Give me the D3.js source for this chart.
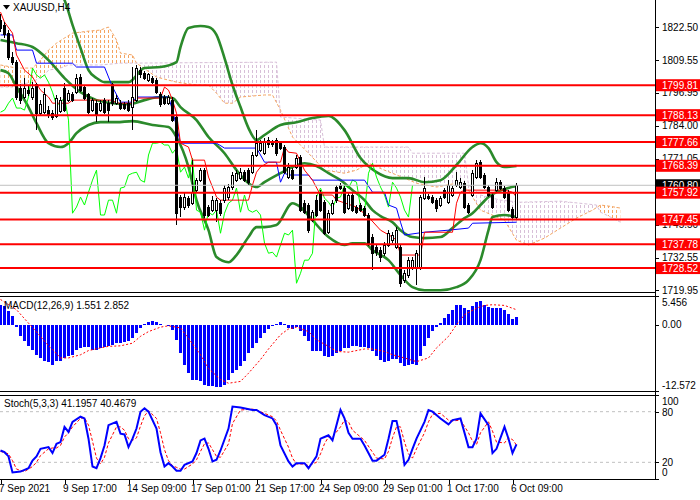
<!DOCTYPE html>
<html>
<head>
<meta charset="utf-8">
<script src="https://cdn.jsdelivr.net/npm/d3@7"></script>
<style>
  body { margin: 0; background: #fff; }
  svg { display: block; font-family: 'Liberation Sans', Arial, sans-serif; font-size: 10px; }
</style>
</head>
<body>
<div id="chart"></div>
<script>
const symbol = 'XAUUSD,H4';

// H4 candles, one per bar
const opens = [
  1825.2, 1822.9, 1820.1, 1810.8, 1808.8, 1798.7, 1795.2, 1797.9, 1795.2, 1799.9,
  1788.9, 1789.3, 1790.1, 1788.9, 1787.8, 1789.7, 1798.7, 1794.0, 1796.0, 1797.1,
  1803.0, 1799.1, 1796.0, 1790.1, 1792.8, 1790.1, 1794.0, 1792.8, 1799.9, 1792.8,
  1792.8, 1792.4, 1792.8, 1791.3, 1794.0, 1805.7, 1804.5, 1801.8, 1802.6, 1801.8,
  1796.0, 1795.2, 1792.8, 1794.0, 1787.4, 1756.2, 1752.3, 1755.8, 1753.8, 1758.9,
  1762.8, 1766.7, 1752.3, 1751.1, 1751.1, 1753.8, 1755.0, 1756.2, 1760.1, 1762.8,
  1763.6, 1765.9, 1766.7, 1765.9, 1772.6, 1774.5, 1773.3, 1778.4, 1777.6, 1778.4,
  1777.2, 1775.7, 1764.0, 1766.7, 1767.9, 1771.8, 1753.8, 1753.1, 1747.2, 1755.0,
  1757.7, 1754.2, 1742.5, 1749.9, 1760.1, 1760.9, 1759.7, 1751.9, 1757.0, 1752.3,
  1753.1, 1751.9, 1749.2, 1740.6, 1736.7, 1735.5, 1734.3, 1737.5, 1739.4, 1736.7,
  1736.7, 1723.8, 1725.8, 1728.9, 1728.9, 1728.9, 1755.8, 1756.6, 1756.2, 1755.0,
  1753.1, 1758.9, 1754.2, 1757.0, 1760.9, 1760.1, 1761.6, 1753.1, 1757.0, 1764.0,
  1769.8, 1764.8, 1760.1, 1757.0, 1758.9, 1762.0, 1759.7, 1758.1, 1751.5, 1748.4
];
const highs = [
  1827.5, 1824.4, 1821.3, 1812.7, 1809.6, 1800.2, 1802.6, 1799.5, 1801.0, 1800.6,
  1794.0, 1798.7, 1791.7, 1790.1, 1796.0, 1795.2, 1800.6, 1797.9, 1797.1, 1804.1,
  1804.1, 1799.9, 1796.7, 1794.8, 1794.0, 1794.0, 1794.8, 1794.0, 1800.6, 1796.0,
  1794.0, 1793.2, 1794.0, 1806.9, 1807.7, 1806.9, 1805.3, 1804.5, 1803.4, 1802.6,
  1797.1, 1796.0, 1796.0, 1795.2, 1788.2, 1757.0, 1757.7, 1756.6, 1770.6, 1763.6,
  1767.5, 1767.5, 1753.1, 1756.6, 1755.8, 1755.0, 1760.9, 1761.2, 1765.9, 1766.7,
  1767.5, 1766.7, 1767.5, 1773.7, 1782.3, 1778.4, 1779.2, 1779.6, 1778.4, 1779.2,
  1778.0, 1776.5, 1769.4, 1767.5, 1772.6, 1772.6, 1755.0, 1753.8, 1751.1, 1757.0,
  1758.9, 1755.0, 1751.1, 1755.0, 1760.9, 1761.6, 1760.5, 1757.7, 1757.7, 1753.1,
  1753.8, 1752.7, 1749.9, 1741.7, 1737.8, 1736.7, 1738.6, 1743.3, 1742.5, 1744.5,
  1737.5, 1727.7, 1732.8, 1732.8, 1735.5, 1757.0, 1764.0, 1757.3, 1757.0, 1755.8,
  1756.6, 1759.7, 1762.8, 1760.5, 1765.9, 1763.6, 1762.4, 1753.8, 1766.7, 1770.6,
  1770.6, 1765.5, 1760.9, 1757.7, 1763.6, 1762.8, 1760.5, 1758.9, 1752.3, 1761.6
];
const lows = [
  1820.5, 1818.2, 1809.6, 1807.7, 1794.0, 1792.4, 1794.4, 1795.6, 1794.0, 1782.3,
  1787.8, 1788.5, 1787.0, 1786.2, 1787.0, 1788.9, 1789.3, 1793.2, 1793.2, 1796.3,
  1797.1, 1794.0, 1788.5, 1789.3, 1785.4, 1789.3, 1788.5, 1785.4, 1791.7, 1792.1,
  1790.1, 1790.1, 1789.3, 1782.3, 1793.2, 1802.6, 1801.8, 1801.0, 1800.2, 1796.3,
  1791.3, 1792.1, 1792.1, 1785.4, 1745.3, 1748.4, 1751.1, 1751.9, 1753.1, 1758.1,
  1762.0, 1748.0, 1748.4, 1750.3, 1746.4, 1748.8, 1753.8, 1755.0, 1758.9, 1762.0,
  1762.8, 1762.0, 1760.9, 1765.1, 1771.8, 1773.7, 1772.6, 1775.3, 1775.7, 1772.2,
  1774.5, 1765.1, 1763.2, 1762.8, 1767.1, 1750.3, 1749.5, 1742.1, 1746.4, 1748.4,
  1750.3, 1741.4, 1741.7, 1749.2, 1753.8, 1758.9, 1749.5, 1751.1, 1750.3, 1749.5,
  1750.3, 1748.4, 1737.1, 1727.7, 1733.2, 1730.8, 1733.2, 1736.7, 1738.2, 1735.9,
  1721.1, 1722.6, 1724.6, 1727.7, 1721.9, 1727.7, 1755.0, 1755.0, 1753.4, 1750.3,
  1752.3, 1755.4, 1753.4, 1756.2, 1760.1, 1759.3, 1751.5, 1749.5, 1756.2, 1763.2,
  1763.2, 1759.3, 1756.2, 1751.5, 1758.1, 1758.9, 1755.4, 1750.3, 1747.6, 1747.6
];
const closes = [
  1822.1, 1819.7, 1810.8, 1808.8, 1795.2, 1794.0, 1798.7, 1796.7, 1798.7, 1788.9,
  1792.1, 1796.0, 1788.2, 1787.4, 1794.8, 1794.0, 1790.1, 1796.7, 1794.0, 1802.6,
  1797.9, 1794.8, 1789.3, 1794.0, 1788.2, 1792.8, 1789.3, 1790.1, 1792.8, 1794.8,
  1790.9, 1790.9, 1790.1, 1795.2, 1806.5, 1803.8, 1802.6, 1803.8, 1801.0, 1797.1,
  1792.1, 1792.8, 1795.2, 1786.2, 1749.9, 1752.3, 1756.2, 1753.1, 1758.1, 1762.8,
  1766.7, 1749.2, 1749.2, 1755.0, 1755.0, 1749.9, 1759.7, 1760.1, 1764.8, 1765.5,
  1765.9, 1762.8, 1762.0, 1772.6, 1777.2, 1777.2, 1777.6, 1776.5, 1776.5, 1773.3,
  1775.3, 1765.9, 1767.9, 1763.6, 1771.4, 1751.1, 1750.3, 1743.3, 1750.3, 1749.2,
  1751.1, 1742.1, 1749.9, 1753.8, 1755.0, 1759.7, 1750.3, 1757.0, 1751.1, 1750.3,
  1751.1, 1749.2, 1738.2, 1734.3, 1734.7, 1732.8, 1737.5, 1742.1, 1741.4, 1743.3,
  1722.6, 1726.5, 1731.6, 1731.6, 1734.3, 1756.2, 1759.7, 1755.8, 1754.2, 1751.9,
  1755.8, 1756.2, 1760.9, 1759.7, 1762.8, 1762.0, 1752.3, 1750.3, 1765.5, 1769.4,
  1764.0, 1760.1, 1757.0, 1752.3, 1762.0, 1759.7, 1756.2, 1751.1, 1748.4, 1760.8
];

// Bollinger bands read at bar positions
const bbUpperBars = [0, 4, 8, 12, 16, 18, 20, 22, 24, 26, 32, 36, 40, 44, 45, 47, 50, 52, 54, 56, 58, 60, 62, 64, 66, 70, 74, 78, 82, 86, 90, 94, 98, 102, 106, 110, 114, 118, 120, 122, 124, 126, 129];
const bbUpper = [1852.5, 1848.6, 1844.7, 1840.0, 1833.0, 1823.3, 1814.3, 1805.7, 1802.6, 1801.0, 1801.0, 1806.5, 1806.9, 1808.8, 1814.7, 1822.1, 1822.9, 1822.5, 1819.4, 1810.4, 1799.9, 1791.3, 1783.1, 1778.4, 1780.4, 1784.3, 1785.4, 1787.0, 1787.8, 1782.3, 1771.4, 1765.9, 1763.6, 1763.6, 1762.0, 1762.8, 1768.7, 1775.7, 1777.2, 1775.3, 1769.8, 1767.9, 1768.3];
const bbMiddleBars = [0, 4, 8, 12, 16, 20, 24, 28, 32, 36, 40, 43, 45, 49, 52, 56, 59, 62, 64, 66, 70, 73, 76, 79, 82, 85, 88, 91, 93, 95, 98, 100, 103, 106, 110, 113, 116, 118, 120, 122, 124, 126, 129];
const bbMiddle = [1817.4, 1816.2, 1814.7, 1809.6, 1802.6, 1797.1, 1794.0, 1792.8, 1792.4, 1794.0, 1795.2, 1794.8, 1791.3, 1786.2, 1779.6, 1773.3, 1766.7, 1761.6, 1760.1, 1762.0, 1765.5, 1767.9, 1769.4, 1768.3, 1765.5, 1762.8, 1758.9, 1755.0, 1751.1, 1748.8, 1746.4, 1743.3, 1740.6, 1740.2, 1740.6, 1744.1, 1748.0, 1749.9, 1753.1, 1756.2, 1758.1, 1759.3, 1760.5];
const bbLowerBars = [0, 2, 4, 7, 9, 12, 15, 17, 19, 22, 25, 29, 33, 38, 42, 44, 47, 49, 52, 54, 57, 59, 62, 64, 66, 69, 73, 75, 78, 82, 86, 88, 91, 93, 97, 100, 103, 106, 110, 114, 117, 120, 122, 123, 126, 129];
const bbLower = [1805.7, 1804.5, 1799.1, 1791.3, 1785.0, 1777.2, 1775.7, 1777.2, 1781.1, 1784.3, 1785.4, 1785.4, 1785.8, 1784.3, 1783.5, 1779.6, 1767.9, 1755.0, 1743.3, 1732.8, 1730.8, 1733.6, 1740.6, 1744.5, 1744.5, 1745.3, 1753.8, 1752.3, 1747.2, 1740.6, 1737.5, 1738.2, 1738.2, 1735.5, 1731.6, 1725.8, 1721.1, 1719.9, 1719.9, 1721.1, 1723.8, 1731.6, 1743.3, 1748.4, 1749.2, 1748.4];

// Ichimoku lines
const tenkanBars = [0, 1, 3, 4, 6, 8, 10, 12, 13, 17, 18, 28, 29, 33, 34, 40, 41, 42, 43, 44, 45, 47, 48, 51, 52, 54, 55, 62, 63, 64, 65, 67, 70, 71, 72, 74, 76, 78, 80, 83, 84, 89, 92, 95, 98, 99, 100, 105, 106, 113, 114, 115, 116, 126, 128, 129];
const tenkan = [1828.3, 1824.4, 1820.1, 1811.6, 1805.7, 1803.0, 1797.9, 1795.2, 1792.8, 1792.8, 1794.0, 1794.0, 1792.8, 1792.8, 1794.8, 1794.8, 1799.1, 1797.9, 1794.0, 1788.9, 1777.2, 1775.7, 1770.6, 1770.6, 1764.0, 1756.2, 1755.0, 1755.0, 1760.9, 1765.9, 1767.9, 1769.8, 1769.8, 1775.7, 1773.7, 1773.3, 1766.7, 1762.8, 1757.0, 1757.0, 1755.0, 1752.3, 1748.4, 1743.3, 1740.6, 1739.4, 1733.6, 1733.6, 1742.5, 1742.5, 1753.8, 1758.1, 1758.9, 1758.9, 1758.1, 1756.2];
const kijunBars = [0, 3, 4, 8, 9, 18, 19, 26, 28, 30, 33, 34, 42, 43, 45, 54, 56, 64, 65, 66, 69, 70, 71, 72, 77, 78, 91, 93, 96, 97, 99, 100, 101, 106, 112, 117, 118, 129];
const kijun = [1819.4, 1819.4, 1813.5, 1813.5, 1808.4, 1808.4, 1806.9, 1806.9, 1799.1, 1793.2, 1793.2, 1795.2, 1795.2, 1790.1, 1777.2, 1777.2, 1775.3, 1775.3, 1772.6, 1769.8, 1769.8, 1762.0, 1765.5, 1764.8, 1764.8, 1762.8, 1762.8, 1758.1, 1758.1, 1753.1, 1751.9, 1746.4, 1741.4, 1742.5, 1743.3, 1744.1, 1746.0, 1746.4];
const chikouShift = 26;
const spanABars = [0, 4, 8, 10, 12, 14, 16, 18, 22, 25, 27, 28, 29, 30, 33, 34, 39, 44, 49, 52, 54, 56, 58, 60, 66, 68, 70, 73, 77, 81, 86, 89, 92, 96, 101, 104, 109, 114, 117, 120, 126, 129, 132, 136, 140, 144, 148, 150, 152, 155];
const spanA = [1807.7, 1806.5, 1806.5, 1809.6, 1813.5, 1816.2, 1818.2, 1820.1, 1820.9, 1821.3, 1822.5, 1820.1, 1817.4, 1812.3, 1811.6, 1808.4, 1803.0, 1801.0, 1799.9, 1799.9, 1796.7, 1792.8, 1792.8, 1795.2, 1796.0, 1796.0, 1790.1, 1779.6, 1773.3, 1766.7, 1765.5, 1766.7, 1769.4, 1766.7, 1763.6, 1761.6, 1760.1, 1761.6, 1758.9, 1751.1, 1747.2, 1739.4, 1737.5, 1740.2, 1744.1, 1748.0, 1751.1, 1753.1, 1752.7, 1751.9];
const spanBBars = [0, 3, 4, 8, 11, 12, 15, 17, 25, 30, 69, 70, 80, 81, 102, 103, 116, 117, 120, 125, 130, 140, 149, 150, 152, 155];
const spanB = [1799.1, 1799.1, 1799.9, 1801.0, 1803.8, 1805.7, 1806.5, 1807.7, 1807.7, 1808.4, 1808.8, 1787.4, 1786.2, 1775.7, 1775.7, 1773.3, 1773.3, 1760.9, 1757.0, 1755.0, 1754.2, 1754.6, 1753.1, 1750.3, 1748.8, 1746.4];

// horizontal levels and price scale
const levels = [1799.81, 1788.13, 1777.66, 1768.39, 1757.92, 1747.45, 1737.78, 1728.52];
const currentPrice = 1760.80;
const priceTicks = [1822.50, 1809.55, 1796.95, 1784.00, 1771.05, 1745.50, 1732.55, 1719.95];

// MACD(12,26,9): histogram per bar, signal read at bar positions
const macdMain = [
  3.80, 3.48, 2.53, 1.58, -0.44, -2.21, -3.16, -4.11, -4.74, -5.69,
  -6.33, -6.96, -7.15, -7.59, -6.96, -6.96, -6.33, -6.01, -5.69, -4.74,
  -4.43, -4.24, -4.24, -4.74, -4.74, -4.43, -4.24, -3.98, -3.80, -3.48,
  -3.48, -3.35, -3.16, -2.53, -1.58, -0.63, 0.19, 0.51, 0.76, 0.51,
  0.19, -0.13, -0.19, -0.95, -2.85, -5.38, -7.59, -9.17, -10.44, -10.44,
  -10.75, -11.39, -11.70, -11.70, -11.89, -11.89, -11.39, -10.44, -9.17, -8.54,
  -7.91, -6.96, -5.38, -4.43, -3.48, -2.53, -1.58, -0.76, -0.19, 0.19,
  0.51, 0.13, -0.63, -0.82, -0.44, -1.26, -2.21, -3.16, -5.06, -5.06,
  -5.06, -6.01, -6.14, -6.01, -5.38, -5.06, -4.43, -4.43, -4.11, -4.11,
  -4.24, -4.24, -4.43, -5.06, -5.88, -6.77, -7.08, -6.96, -6.51, -6.45,
  -7.27, -7.78, -7.65, -7.53, -7.59, -6.01, -4.11, -2.53, -1.26, -0.44,
  0.32, 1.26, 2.09, 2.85, 3.67, 3.80, 3.16, 2.72, 3.48, 4.30,
  4.43, 3.80, 3.35, 3.16, 3.16, 3.16, 2.72, 2.09, 1.14, 1.551
];
const macdSignalBars = [0, 1, 4, 7, 10, 12, 13, 15, 17, 20, 22, 25, 27, 30, 33, 35, 37, 40, 42, 45, 47, 50, 52, 55, 57, 60, 62, 65, 67, 70, 72, 74, 77, 79, 82, 84, 87, 91, 93, 96, 98, 101, 104, 107, 109, 112, 114, 116, 119, 121, 123, 126, 129];
const macdSignal = [4.8, 4.3, 2.85, 0.3, -2.2, -4.0, -4.7, -6.3, -6.3, -5.7, -4.9, -4.4, -4.1, -4.0, -3.5, -2.2, -1.3, -0.45, -0.2, -0.6, -2.6, -5.7, -8.3, -10.4, -11.1, -10.75, -9.2, -6.6, -4.6, -1.9, -0.8, -0.45, -1.3, -2.85, -4.1, -5.06, -5.2, -4.6, -4.6, -5.06, -5.7, -6.3, -7.0, -6.3, -4.4, -2.2, 0.0, 1.9, 3.16, 3.67, 3.8, 3.67, 2.852];
const macdTicks = [5.456, 0.00, -12.572];

// Stochastic(5,3,3)
const stochMainBars = [0, 1, 2, 3, 5, 7, 8, 9, 10, 12, 13, 14, 15, 16, 17, 18, 20, 21, 22, 23, 24, 25, 26, 27, 29, 30, 31, 32, 33, 34, 35, 36, 37, 39, 40, 41, 42, 43, 44, 45, 46, 48, 49, 50, 51, 52, 53, 54, 55, 57, 58, 60, 63, 64, 66, 68, 69, 70, 72, 73, 74, 76, 77, 79, 80, 81, 82, 83, 85, 86, 87, 88, 90, 91, 93, 94, 96, 97, 98, 99, 100, 101, 102, 103, 104, 106, 107, 108, 110, 112, 113, 115, 117, 118, 119, 120, 122, 123, 124, 126, 127, 128, 129];
const stochMain = [34, 32, 27, 8, 9, 13, 22, 27, 36, 38, 31, 42, 44, 62, 56, 68, 74, 72, 48, 15, 13, 25, 40, 64, 68, 54, 53, 38, 48, 60, 80, 84, 80, 60, 32, 15, 19, 15, 10, 10, 17, 21, 31, 46, 48, 36, 21, 23, 34, 60, 86, 85, 82, 82, 76, 72, 64, 40, 21, 15, 19, 19, 13, 27, 48, 50, 52, 46, 82, 72, 55, 48, 48, 40, 22, 22, 29, 48, 69, 69, 48, 17, 23, 36, 48, 68, 82, 80, 72, 65, 70, 72, 38, 38, 48, 78, 64, 31, 36, 62, 48, 31, 41.1957];
const stochSignalBars = [0, 2, 3, 4, 6, 8, 9, 10, 12, 13, 14, 15, 16, 17, 18, 20, 21, 22, 23, 24, 25, 26, 27, 29, 30, 31, 32, 33, 34, 35, 36, 37, 39, 40, 41, 42, 43, 44, 45, 46, 48, 49, 50, 51, 52, 53, 54, 55, 57, 58, 60, 63, 64, 66, 68, 69, 70, 72, 73, 74, 76, 77, 79, 80, 81, 82, 83, 85, 86, 87, 88, 90, 91, 93, 94, 96, 97, 98, 99, 100, 101, 102, 103, 104, 106, 107, 108, 110, 112, 113, 115, 117, 118, 119, 120, 122, 123, 124, 126, 127, 128, 129];
const stochSignal = [33, 30, 22, 12, 9, 15, 20, 28, 36, 37, 37, 40, 50, 55, 62, 72, 73, 64, 45, 25, 18, 26, 43, 62, 62, 58, 48, 46, 49, 63, 75, 81, 72, 55, 35, 22, 16, 14, 12, 12, 18, 23, 33, 42, 43, 35, 27, 26, 42, 66, 82, 83, 82, 78, 74, 69, 58, 38, 25, 18, 18, 16, 20, 30, 42, 50, 50, 62, 70, 68, 58, 50, 46, 32, 25, 24, 33, 49, 62, 62, 44, 30, 25, 36, 55, 68, 77, 78, 70, 69, 70, 55, 45, 41, 55, 68, 57, 44, 43, 49, 47, 40.4679];
const stochTicks = [100, 80, 20, 0];
const stochLevels = [80, 20];

// time axis
const xTickBars = [0, 16, 32, 48, 64, 80, 96, 112, 128];
const xTickLabels = ['7 Sep 2021', '9 Sep 17:00', '14 Sep 09:00', '17 Sep 01:00', '21 Sep 17:00', '24 Sep 09:00', '29 Sep 01:00', '1 Oct 17:00', '6 Oct 09:00'];

const width = 700;
const height = 500;
const plotRight = 655;
const mainBox = { top: 0, bottom: 292 };
const macdBox = { top: 296, bottom: 391 };
const stochBox = { top: 395, bottom: 479 };

const x = d3.scaleLinear().domain([0, 1]).range([0.5, 4.5]);
const yMain = d3.scaleLinear().domain([1719.19, 1833.03]).range([mainBox.bottom, mainBox.top]);
const yMacd = d3.scaleLinear().domain([-12.572, 5.456]).range([macdBox.bottom, macdBox.top]);
const yStoch = d3.scaleLinear().domain([0, 100]).range([479.2, 394.8]);

const zip = (bars, vals) => bars.map((b, i) => [b, vals[i]]);
const last = (arr) => arr[arr.length - 1];

const svg = d3.select('#chart').append('svg').attr('width', width).attr('height', height);
const defs = svg.append('defs');

function addClip(id, box) {
  defs.append('clipPath').attr('id', id)
    .append('rect').attr('x', 0).attr('y', box.top).attr('width', plotRight).attr('height', box.bottom - box.top);
}
addClip('clip-main', mainBox);
addClip('clip-macd', macdBox);
addClip('clip-stoch', stochBox);

function addHatch(id, color) {
  defs.append('pattern').attr('id', id)
    .attr('patternUnits', 'userSpaceOnUse')
    .attr('width', 4).attr('height', 5)
    .append('line')
    .attr('x1', 0.5).attr('x2', 0.5).attr('y1', 0).attr('y2', 3)
    .attr('stroke', color).attr('stroke-width', 1);
}
addHatch('hatch-a', '#F4A460');
addHatch('hatch-b', '#D8BFD8');

const main = svg.append('g').attr('clip-path', 'url(#clip-main)');

function drawCloud() {
  const ptsA = zip(spanABars, spanA).map((d) => [x(d[0]), yMain(d[1])]);
  const ptsB = zip(spanBBars, spanB).map((d) => [x(d[0]), yMain(d[1])]);
  const line = d3.line();
  const band = line(ptsA.concat(ptsB.slice().reverse())) + 'Z';
  const x0 = ptsA[0][0];
  const x1 = last(ptsA)[0];
  const belowA = line(ptsA.concat([[x1, 400], [x0, 400]])) + 'Z';
  const aboveA = line(ptsA.concat([[x1, -100], [x0, -100]])) + 'Z';
  defs.append('clipPath').attr('id', 'clip-below-a').append('path').attr('d', belowA);
  defs.append('clipPath').attr('id', 'clip-above-a').append('path').attr('d', aboveA);

  // sandy hatch where span A is on top, thistle where span B is on top
  main.append('g').attr('clip-path', 'url(#clip-below-a)')
    .append('path').attr('d', band).attr('fill', 'url(#hatch-a)');
  main.append('g').attr('clip-path', 'url(#clip-above-a)')
    .append('path').attr('d', band).attr('fill', 'url(#hatch-b)');

  main.append('path').attr('d', line(ptsA))
    .attr('fill', 'none').attr('stroke', '#F4A460').attr('stroke-dasharray', '3,2');
  main.append('path').attr('d', line(ptsB))
    .attr('fill', 'none').attr('stroke', '#D8BFD8').attr('stroke-dasharray', '3,2');
}

function drawBands() {
  const line = d3.line().curve(d3.curveMonotoneX)
    .x((d) => x(d[0])).y((d) => yMain(d[1]));
  [[bbUpperBars, bbUpper], [bbMiddleBars, bbMiddle], [bbLowerBars, bbLower]].forEach(([bars, vals]) => {
    main.append('path').datum(zip(bars, vals))
      .attr('d', line)
      .attr('fill', 'none')
      .attr('stroke', '#2b8a2b')
      .attr('stroke-width', 2.6);
  });
}

function drawIchimokuLines() {
  const line = d3.line().x((d) => x(d[0])).y((d) => yMain(d[1]));
  const chikou = closes.slice(chikouShift).map((c, i) => [i, c]);
  main.append('path').datum(chikou).attr('d', line)
    .attr('fill', 'none').attr('stroke', '#00FF00').attr('stroke-width', 1);
  main.append('path').datum(zip(kijunBars, kijun)).attr('d', line)
    .attr('fill', 'none').attr('stroke', '#0000FF').attr('stroke-width', 1);
  main.append('path').datum(zip(tenkanBars, tenkan)).attr('d', line)
    .attr('fill', 'none').attr('stroke', '#FF0000').attr('stroke-width', 1);
}

function drawCandles() {
  const bars = d3.range(closes.length);
  const g = main.append('g').attr('shape-rendering', 'crispEdges');
  g.selectAll('.wick').data(bars).enter().append('line')
    .attr('class', 'wick')
    .attr('x1', (i) => x(i)).attr('x2', (i) => x(i))
    .attr('y1', (i) => yMain(highs[i])).attr('y2', (i) => yMain(lows[i]))
    .attr('stroke', '#000');
  g.selectAll('.body').data(bars).enter().append('rect')
    .attr('class', 'body')
    .attr('x', (i) => x(i) - 1)
    .attr('y', (i) => yMain(Math.max(opens[i], closes[i])))
    .attr('width', 2)
    .attr('height', (i) => Math.max(1, Math.abs(yMain(opens[i]) - yMain(closes[i]))))
    .attr('fill', (i) => closes[i] >= opens[i] ? '#fff' : '#000')
    .attr('stroke', '#000');
}

function drawLevels() {
  main.append('line')
    .attr('x1', 0).attr('x2', plotRight)
    .attr('y1', yMain(currentPrice)).attr('y2', yMain(currentPrice))
    .attr('stroke', '#c0c0c0');
  main.selectAll('.level').data(levels).enter().append('line')
    .attr('class', 'level')
    .attr('x1', 0).attr('x2', plotRight)
    .attr('y1', (d) => yMain(d)).attr('y2', (d) => yMain(d))
    .attr('stroke', '#FF0000').attr('stroke-width', 2);
}

function drawMacd() {
  const g = svg.append('g').attr('clip-path', 'url(#clip-macd)');
  g.append('g').attr('shape-rendering', 'crispEdges')
    .selectAll('rect').data(macdMain).enter().append('rect')
    .attr('x', (d, i) => x(i) - 1.5)
    .attr('width', 3)
    .attr('y', (d) => yMacd(Math.max(0, d)))
    .attr('height', (d) => Math.abs(yMacd(d) - yMacd(0)))
    .attr('fill', '#0000FF');
  const line = d3.line().x((d) => x(d[0])).y((d) => yMacd(d[1]));
  g.append('path').datum(zip(macdSignalBars, macdSignal)).attr('d', line)
    .attr('fill', 'none').attr('stroke', '#FF0000').attr('stroke-dasharray', '2,2');
}

function drawStoch() {
  const g = svg.append('g').attr('clip-path', 'url(#clip-stoch)');
  g.selectAll('.slevel').data(stochLevels).enter().append('line')
    .attr('x1', 0).attr('x2', plotRight)
    .attr('y1', (d) => yStoch(d)).attr('y2', (d) => yStoch(d))
    .attr('stroke', '#c0c0c0').attr('stroke-dasharray', '3,3');
  const line = d3.line().x((d) => x(d[0])).y((d) => yStoch(d[1]));
  g.append('path').datum(zip(stochSignalBars, stochSignal)).attr('d', line)
    .attr('fill', 'none').attr('stroke', '#FF0000').attr('stroke-dasharray', '3,2');
  g.append('path').datum(zip(stochMainBars, stochMain)).attr('d', line)
    .attr('fill', 'none').attr('stroke', '#0000FF').attr('stroke-width', 2);
}

function drawFrames() {
  const g = svg.append('g').attr('stroke', '#000').attr('shape-rendering', 'crispEdges');
  [mainBox.bottom, macdBox.top, macdBox.bottom, stochBox.top, stochBox.bottom].forEach((y) => {
    g.append('line').attr('x1', 0).attr('x2', plotRight).attr('y1', y + 0.5).attr('y2', y + 0.5);
  });
  g.append('line').attr('x1', plotRight + 0.5).attr('x2', plotRight + 0.5).attr('y1', 0).attr('y2', stochBox.bottom + 1);
}

function drawAxes() {
  const g = svg.append('g');
  const tick = (y) => g.append('line').attr('x1', plotRight).attr('x2', plotRight + 4)
    .attr('y1', Math.round(y) + 0.5).attr('y2', Math.round(y) + 0.5).attr('stroke', '#000');

  priceTicks.forEach((p) => {
    tick(yMain(p));
    g.append('text').attr('x', 662).attr('y', yMain(p) + 3.5).text(p.toFixed(2));
  });

  // current price label
  g.append('rect').attr('x', 656).attr('y', yMain(currentPrice) - 6)
    .attr('width', 44).attr('height', 12).attr('fill', '#000');
  g.append('text').attr('x', 662).attr('y', yMain(currentPrice) + 3.5)
    .attr('fill', '#fff').text(currentPrice.toFixed(2));

  levels.forEach((p) => {
    g.append('rect').attr('x', 656).attr('y', yMain(p) - 6)
      .attr('width', 44).attr('height', 12).attr('fill', '#FF0000');
    g.append('text').attr('x', 662).attr('y', yMain(p) + 3.5)
      .attr('fill', '#fff').text(p.toFixed(2));
  });

  const macdLabelY = [306, 328, 389];
  macdTicks.forEach((v, i) => {
    tick(yMacd(v));
    g.append('text').attr('x', 662).attr('y', macdLabelY[i]).text(v === 0 ? '0.00' : String(v));
  });

  const stochLabelY = [404.5, 416, 466, 476];
  stochTicks.forEach((v, i) => {
    tick(yStoch(v));
    g.append('text').attr('x', 662).attr('y', stochLabelY[i]).text(v);
  });

  xTickBars.forEach((b, i) => {
    g.append('line').attr('x1', Math.round(x(b)) + 0.5).attr('x2', Math.round(x(b)) + 0.5)
      .attr('y1', stochBox.bottom).attr('y2', stochBox.bottom + 5).attr('stroke', '#000');
    g.append('text').attr('x', x(b) - 1.5).attr('y', 492).text(xTickLabels[i]);
  });
}

function drawLabels() {
  svg.append('path').attr('d', 'M3,5 L10,5 L6.5,9.5 Z').attr('fill', '#000');
  svg.append('text').attr('x', 13).attr('y', 11).text(symbol);
  svg.append('text').attr('x', 4).attr('y', 309)
    .text('MACD(12,26,9) ' + last(macdMain).toFixed(3) + ' ' + last(macdSignal).toFixed(3));
  svg.append('text').attr('x', 4).attr('y', 407)
    .text('Stoch(5,3,3) ' + last(stochMain).toFixed(4) + ' ' + last(stochSignal).toFixed(4));
}

drawCloud();
drawBands();
drawIchimokuLines();
drawCandles();
drawLevels();
drawMacd();
drawStoch();
drawFrames();
drawAxes();
drawLabels();
</script>
</body>
</html>
